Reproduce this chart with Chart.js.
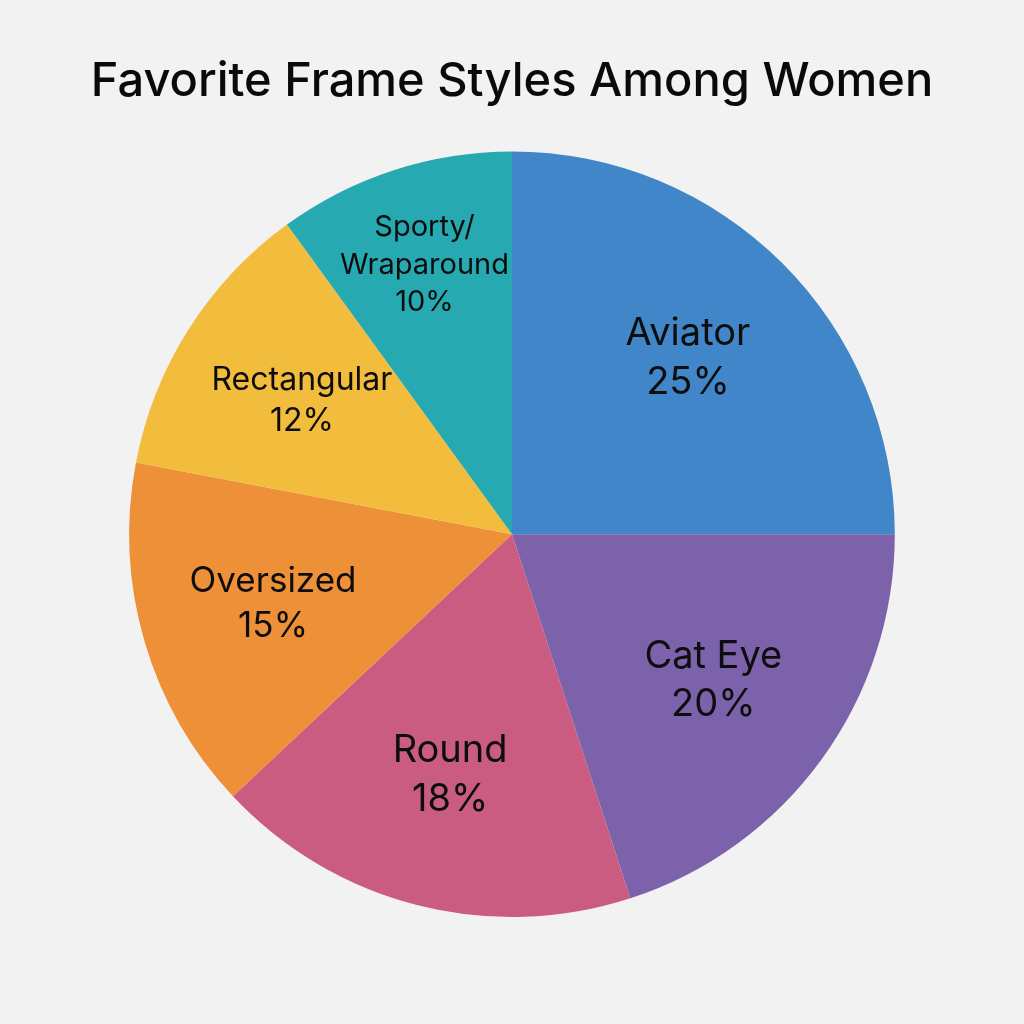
<!DOCTYPE html>
<html>
<head>
<meta charset="utf-8">
<script src="https://cdn.jsdelivr.net/npm/chart.js@4.4.0/dist/chart.umd.min.js"></script>
<style>
html,body{margin:0;padding:0;background:#f2f2f2;}
#wrap{width:1024px;height:1024px;}
</style>
</head>
<body>
<div id="wrap"><canvas id="c" width="1024" height="1024"></canvas></div>
<script>
const categories = ["Aviator", "Cat Eye", "Round", "Oversized", "Rectangular", "Sporty/\nWraparound"];
const shares = [25, 20, 18, 15, 12, 10];
const sliceColors = ["#4186c8", "#7b62aa", "#c95c80", "#ee9038", "#f2bc3c", "#26a9b0"];
const chartTitle = "Favorite Frame Styles Among Women";

const sliceLabels = {
  id: 'sliceLabels',
  afterDatasetsDraw(chart) {
    const ctx = chart.ctx;
    const meta = chart.getDatasetMeta(0);
    meta.data.forEach((arc, i) => {
      const p = arc.getProps(['x','y','startAngle','endAngle','outerRadius'], true);
      const mid = (p.startAngle + p.endAngle) / 2;
      const v = shares[i];
      const r = p.outerRadius * (v >= 12 ? 0.65 : 0.74);
      const cx = p.x + Math.cos(mid) * r;
      const cy = p.y + Math.sin(mid) * r;
      const size = v >= 18 ? 38 : (v >= 15 ? 35 : (v >= 12 ? 32 : 29));
      const lh = size * 1.28;
      const lines = categories[i].split('\n').concat([v + '%']);
      ctx.save();
      ctx.fillStyle = '#0d0d0d';
      ctx.font = '400 ' + size + 'px Inter, "Noto Sans", sans-serif';
      ctx.textAlign = 'center';
      ctx.textBaseline = 'middle';
      const top = cy - (lines.length - 1) * lh / 2;
      lines.forEach((t, k) => ctx.fillText(t, cx, top + k * lh));
      ctx.restore();
    });
  }
};

new Chart(document.getElementById('c'), {
  type: 'pie',
  data: {
    labels: categories,
    datasets: [{
      data: shares,
      backgroundColor: sliceColors,
      borderWidth: 0
    }]
  },
  options: {
    responsive: false,
    animation: false,
    layout: { padding: { top: 0, bottom: 107, left: 0, right: 0 } },
    plugins: {
      legend: { display: false },
      tooltip: { enabled: false },
      title: {
        display: true,
        text: chartTitle,
        color: '#0a0a0a',
        font: { family: 'Inter, "Noto Sans", sans-serif', size: 47, weight: '500', lineHeight: 1.2 },
        padding: { top: 54, bottom: 41 }
      }
    }
  },
  plugins: [sliceLabels]
});
</script>
</body>
</html>
